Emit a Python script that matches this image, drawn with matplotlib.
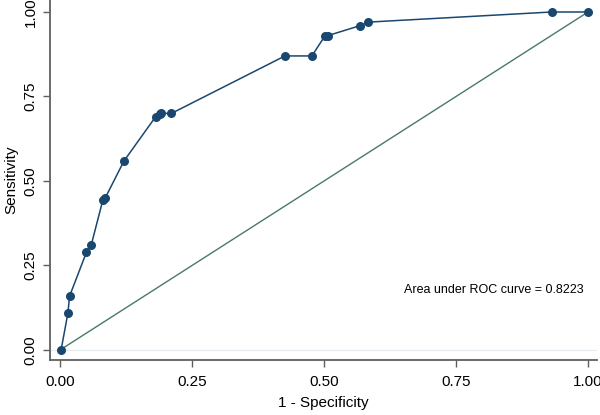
import matplotlib
matplotlib.use("Agg")
import matplotlib.pyplot as plt

plt.rcParams['font.family'] = ['Liberation Sans', 'DejaVu Sans']

fpr = [0.002, 0.015, 0.018, 0.050, 0.059, 0.081, 0.086, 0.121, 0.181, 0.189, 0.192,
       0.211, 0.426, 0.477, 0.502, 0.507, 0.569, 0.583, 0.931, 1.000]
tpr = [0.000, 0.110, 0.159, 0.289, 0.310, 0.443, 0.451, 0.559, 0.690, 0.697, 0.700,
       0.700, 0.870, 0.870, 0.930, 0.930, 0.960, 0.970, 1.000, 1.000]
ticks = [0.0, 0.25, 0.5, 0.75, 1.0]
tick_labels = ["0.00", "0.25", "0.50", "0.75", "1.00"]
auc_text = "Area under ROC curve = 0.8223"

fig = plt.figure(figsize=(6, 4.15), dpi=100)
ax = fig.add_axes([50/600, 55/415, 547/600, 360/415])

curve_col = '#1a476f'
ref_col = '#48796a'
spine_col = '#5f5f5f'

ax.axhline(0, color='#e6ecef', lw=0.9, zorder=0)
ax.plot([0, 1], [0, 1], color=ref_col, lw=1.0, zorder=1)
ax.plot(fpr, tpr, color=curve_col, lw=1.1, marker='o', markersize=6.5,
        markeredgewidth=0, zorder=2)

ax.set_xlim(-0.019, 1.017)
ax.set_ylim(-0.0296, 1.0355)

ax.set_xticks(ticks)
ax.set_xticklabels(tick_labels)
ax.set_yticks(ticks)
ax.set_yticklabels(tick_labels, rotation=90, va='center')

for s in ['top', 'right']:
    ax.spines[s].set_visible(False)
for s in ['left', 'bottom']:
    ax.spines[s].set_color(spine_col)
    ax.spines[s].set_linewidth(1.3)

ax.tick_params(axis='both', direction='out', length=5, width=1.0, color=spine_col,
               labelsize=11, labelcolor='black')
ax.tick_params(axis='x', pad=6)
ax.tick_params(axis='y', pad=4)

ax.set_xlabel("1 - Specificity", fontsize=11, labelpad=5)
ax.set_ylabel("Sensitivity", fontsize=11, labelpad=4)

ax.text(0.822, 0.178, auc_text, fontsize=9, ha='center', va='center')

fig.savefig("out.png", dpi=100)
